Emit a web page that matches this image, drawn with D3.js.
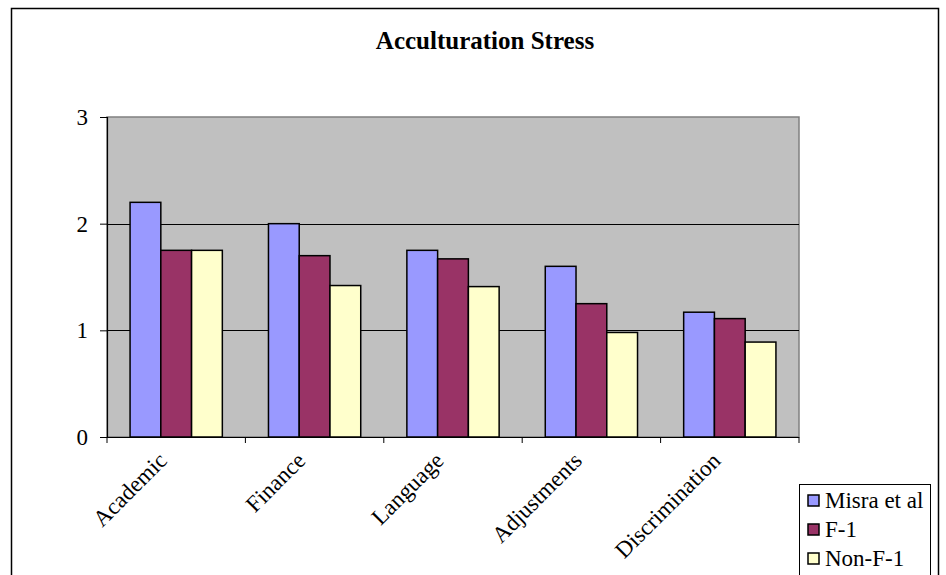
<!DOCTYPE html>
<html>
<head>
<meta charset="utf-8">
<script src="https://cdn.jsdelivr.net/npm/d3@7"></script>
<style>
  html, body { margin: 0; padding: 0; background: #fff; }
  svg { display: block; }
</style>
</head>
<body>
<svg id="chart" width="946" height="575"></svg>
<script>
// Mean acculturative stress scores by domain
const categories = ["Academic", "Finance", "Language", "Adjustments", "Discrimination"];
const seriesNames = ["Misra et al", "F-1", "Non-F-1"];
const misraValues = [2.20, 2.00, 1.75, 1.60, 1.17];
const f1Values = [1.75, 1.70, 1.67, 1.25, 1.11];
const nonF1Values = [1.75, 1.42, 1.41, 0.98, 0.89];
const seriesColors = ["#9999FF", "#993366", "#FFFFCC"];
const yTicks = [0, 1, 2, 3];
const titleText = "Acculturation Stress";

const seriesValues = [misraValues, f1Values, nonF1Values];
const SERIF = "'Liberation Serif', 'Times New Roman', 'DejaVu Serif', serif";

const svg = d3.select("#chart");

// outer chart frame (runs past the bottom edge)
svg.append("rect")
  .attr("x", 11.5).attr("y", 8.5)
  .attr("width", 927).attr("height", 600)
  .attr("fill", "#fff").attr("stroke", "#000").attr("stroke-width", 1.5);

const plot = { left: 107, right: 799, top: 117, bottom: 437 };

const x = d3.scaleBand()
  .domain(categories)
  .range([plot.left, plot.right])
  .paddingInner(0).paddingOuter(0);

const barW = x.bandwidth() / 4.5;
const xs = d3.scaleBand()
  .domain(seriesNames)
  .range([0, barW * 3]);

const y = d3.scaleLinear().domain([0, 3]).range([plot.bottom, plot.top]);

// plot area background
svg.append("rect")
  .attr("x", plot.left).attr("y", plot.top)
  .attr("width", plot.right - plot.left).attr("height", plot.bottom - plot.top)
  .attr("fill", "#C0C0C0")
  .attr("stroke", "#808080").attr("stroke-width", 1.5);

// gridlines
svg.append("g")
  .selectAll("line")
  .data(yTicks.filter(t => t > 0 && t < 3))
  .join("line")
  .attr("x1", plot.left).attr("x2", plot.right)
  .attr("y1", d => Math.round(y(d)) + 0.5).attr("y2", d => Math.round(y(d)) + 0.5)
  .attr("stroke", "#000").attr("stroke-width", 1);

// bars
const groups = svg.append("g")
  .selectAll("g")
  .data(categories)
  .join("g")
  .attr("transform", c => `translate(${x(c) + (x.bandwidth() - barW * 3) / 2},0)`);

groups.selectAll("rect")
  .data((c, i) => seriesNames.map((s, k) => ({ s, k, v: seriesValues[k][i] })))
  .join("rect")
  .attr("x", d => xs(d.s))
  .attr("y", d => y(d.v))
  .attr("width", xs.bandwidth())
  .attr("height", d => y(0) - y(d.v))
  .attr("fill", d => seriesColors[d.k])
  .attr("stroke", "#000").attr("stroke-width", 1.5);

// y axis
const yAxis = svg.append("g")
  .attr("transform", `translate(${plot.left},0)`)
  .call(d3.axisLeft(y).tickValues(yTicks).tickFormat(d3.format("d")).tickSize(7).tickPadding(12));
yAxis.select(".domain").attr("stroke", "#000").attr("stroke-width", 1.2);
yAxis.selectAll(".tick line").attr("stroke", "#000");
yAxis.selectAll(".tick text")
  .style("font-family", SERIF)
  .style("font-size", "23px").attr("fill", "#000");

// x axis with ticks between categories
const xAxisG = svg.append("g").attr("transform", `translate(0,${plot.bottom})`);
xAxisG.append("line")
  .attr("x1", plot.left - 7).attr("x2", plot.right)
  .attr("y1", 0.5).attr("y2", 0.5)
  .attr("stroke", "#000").attr("stroke-width", 1.2);
const boundaries = categories.map(c => x(c)).concat([plot.right]);
xAxisG.selectAll("line.tk")
  .data(boundaries)
  .join("line")
  .attr("class", "tk")
  .attr("x1", d => d).attr("x2", d => d)
  .attr("y1", 0).attr("y2", 6)
  .attr("stroke", "#000");

xAxisG.selectAll("text.cat")
  .data(categories)
  .join("text")
  .attr("class", "cat")
  .attr("text-anchor", "end")
  .attr("transform", c => `translate(${x(c) + x.bandwidth() / 2 - 8},${25}) rotate(-45)`)
  .style("font-family", SERIF)
  .style("font-size", "23px")
  .attr("fill", "#000")
  .text(c => c);

// title
svg.append("text")
  .attr("x", 485).attr("y", 49)
  .attr("text-anchor", "middle")
  .style("font-family", SERIF)
  .style("font-size", "25px").style("font-weight", "bold")
  .attr("fill", "#000")
  .text(titleText);

// legend
const legend = svg.append("g").attr("transform", "translate(799,484)");
legend.append("rect")
  .attr("x", 0.5).attr("y", 0.5).attr("width", 131).attr("height", 120)
  .attr("fill", "#fff").attr("stroke", "#000").attr("stroke-width", 1);
const items = legend.selectAll("g")
  .data(seriesNames)
  .join("g")
  .attr("transform", (d, i) => `translate(9,${16 + i * 29})`);
items.append("rect")
  .attr("x", 0).attr("y", -5).attr("width", 11).attr("height", 11)
  .attr("fill", (d, i) => seriesColors[i])
  .attr("stroke", "#000").attr("stroke-width", 1.5);
items.append("text")
  .attr("x", 17).attr("y", 8)
  .style("font-family", SERIF)
  .style("font-size", "23px")
  .attr("fill", "#000")
  .text(d => d);
</script>
</body>
</html>
